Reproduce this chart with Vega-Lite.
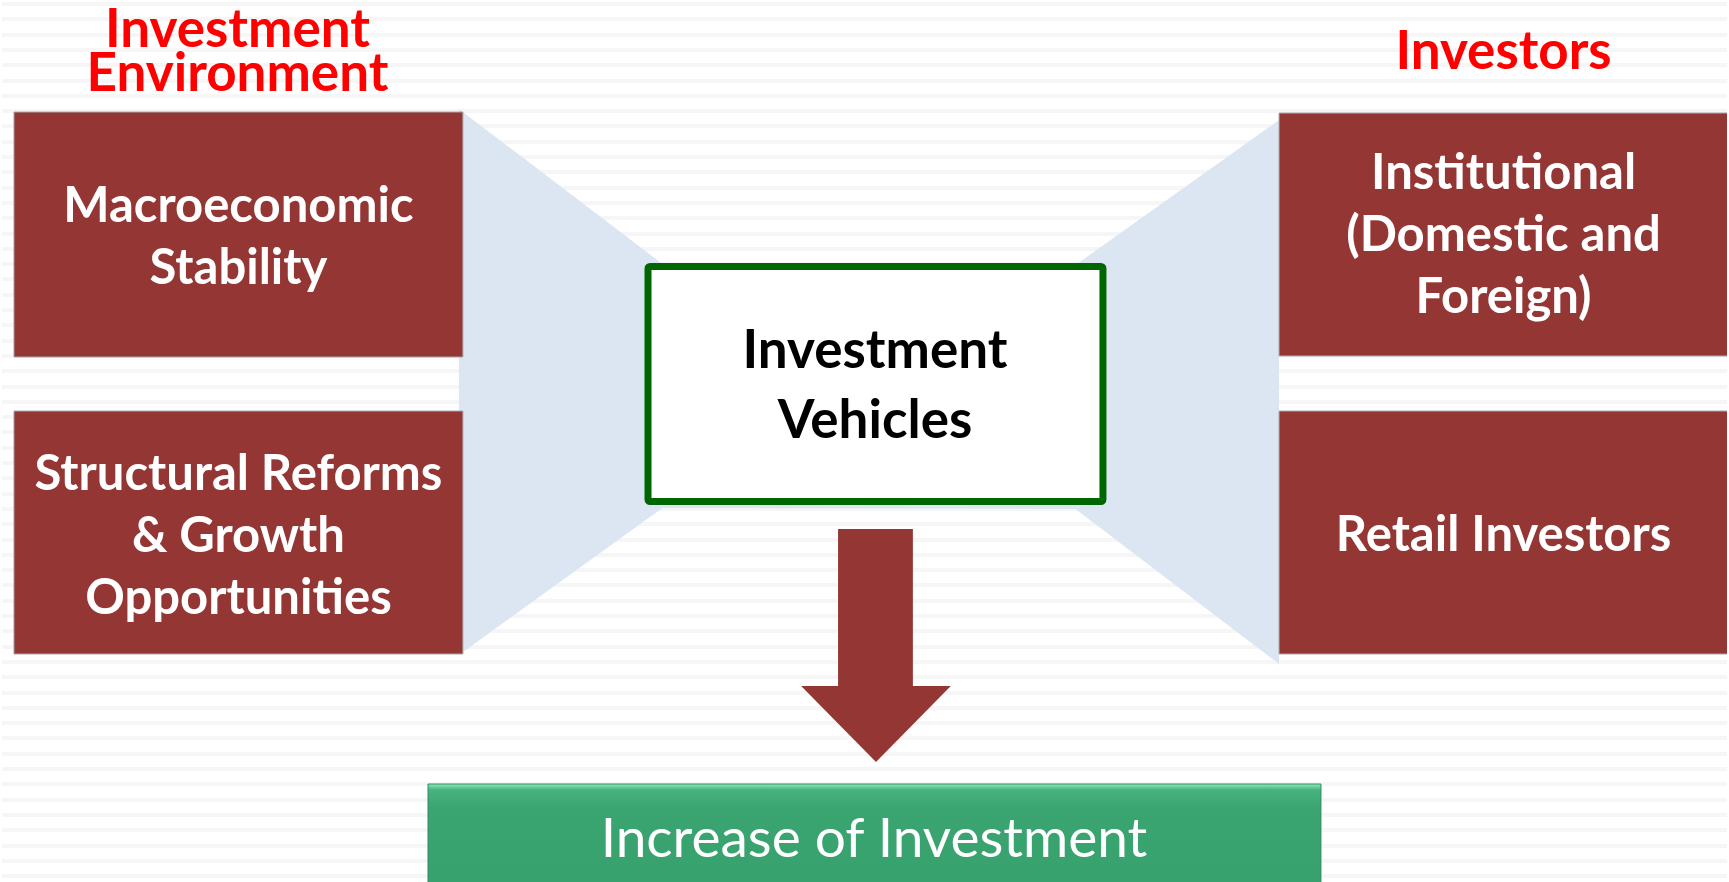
{
  "$schema": "https://vega.github.io/schema/vega-lite/v6.json",
  "width": 1729,
  "height": 882,
  "autosize": {"type": "fit", "contains": "padding"},
  "padding": 0,
  "background": "#ffffff",
  "config": {"view": {"stroke": null}},
  "datasets": {
    "stripes": [
      {"y": 4}, {"y": 19}, {"y": 35}, {"y": 50}, {"y": 65}, {"y": 81}, {"y": 96}, {"y": 111}, {"y": 126}, {"y": 142},
      {"y": 157}, {"y": 172}, {"y": 188}, {"y": 203}, {"y": 218}, {"y": 234}, {"y": 249}, {"y": 264}, {"y": 279}, {"y": 295},
      {"y": 310}, {"y": 325}, {"y": 341}, {"y": 356}, {"y": 371}, {"y": 387}, {"y": 402}, {"y": 417}, {"y": 432}, {"y": 448},
      {"y": 463}, {"y": 478}, {"y": 494}, {"y": 509}, {"y": 524}, {"y": 540}, {"y": 555}, {"y": 570}, {"y": 585}, {"y": 601},
      {"y": 616}, {"y": 631}, {"y": 647}, {"y": 662}, {"y": 677}, {"y": 693}, {"y": 708}, {"y": 723}, {"y": 738}, {"y": 754},
      {"y": 769}, {"y": 784}, {"y": 800}, {"y": 815}, {"y": 830}, {"y": 846}, {"y": 861}, {"y": 876}
    ],
    "funnel": [
      {"x": 458, "top": 109, "bot": 655},
      {"x": 662, "top": 264, "bot": 508},
      {"x": 1076, "top": 265, "bot": 509},
      {"x": 1280, "top": 120, "bot": 664}
    ],
    "boxes": [
      {"name": "Macroeconomic Stability", "x": 12, "x2": 462, "y": 112, "y2": 357},
      {"name": "Structural Reforms", "x": 12, "x2": 462, "y": 411, "y2": 654},
      {"name": "Institutional", "x": 1280, "x2": 1735, "y": 113, "y2": 356},
      {"name": "Retail Investors", "x": 1280, "x2": 1735, "y": 411, "y2": 654}
    ],
    "center": [{"name": "Investment Vehicles", "x": 647.5, "x2": 1103.5, "y": 266.5, "y2": 501.5}],
    "shaft": [{"x": 838, "x2": 913, "y": 529, "y2": 687}],
    "head": [
      {"x": 801, "a": 686, "b": 686},
      {"x": 876, "a": 686, "b": 762},
      {"x": 951, "a": 686, "b": 686}
    ],
    "result": [{"name": "Increase of Investment", "x": 427, "x2": 1322, "y": 784, "y2": 900}],
    "titles": [
      {"label": "Investment\nEnvironment", "x": 236, "y": 47},
      {"label": "Investors", "x": 1505, "y": 69}
    ],
    "boxText": [
      {"label": "Macroeconomic\nStability", "x": 237, "y": 222},
      {"label": "Structural Reforms\n& Growth\nOpportunities", "x": 237, "y": 490},
      {"label": "Institutional\n(Domestic and\nForeign)", "x": 1505, "y": 189},
      {"label": "Retail Investors", "x": 1505, "y": 551}
    ],
    "centerText": [{"label": "Investment\nVehicles", "x": 875, "y": 368}],
    "resultText": [{"label": "Increase of Investment", "x": 874, "y": 857}]
  },
  "layer": [
    {
      "data": {"name": "stripes"},
      "mark": {"type": "rule", "color": "#F6F6F6", "strokeWidth": 4},
      "encoding": {
        "y": {"field": "y", "type": "quantitative", "scale": {"domain": [0, 882], "reverse": true, "nice": false, "zero": false}, "axis": null}
      }
    },
    {
      "data": {"name": "funnel"},
      "mark": {"type": "area", "color": "#DCE6F2", "interpolate": "linear"},
      "encoding": {
        "x": {"field": "x", "type": "quantitative", "scale": {"domain": [0, 1729], "nice": false, "zero": false}, "axis": null},
        "y": {"field": "top", "type": "quantitative", "axis": null},
        "y2": {"field": "bot"}
      }
    },
    {
      "data": {"name": "boxes"},
      "mark": {"type": "rect", "fill": "#943634", "stroke": "#A9A9A9", "strokeWidth": 1, "clip": true},
      "encoding": {
        "x": {"field": "x", "type": "quantitative", "axis": null},
        "x2": {"field": "x2"},
        "y": {"field": "y", "type": "quantitative", "axis": null},
        "y2": {"field": "y2"}
      }
    },
    {
      "data": {"name": "center"},
      "mark": {"type": "rect", "fill": "#9A9A9A", "opacity": 0.45, "xOffset": 3, "yOffset": 4, "cornerRadius": 3},
      "encoding": {
        "x": {"field": "x", "type": "quantitative", "axis": null},
        "x2": {"field": "x2"},
        "y": {"field": "y", "type": "quantitative", "axis": null},
        "y2": {"field": "y2"}
      }
    },
    {
      "data": {"name": "center"},
      "mark": {"type": "rect", "fill": "#FFFFFF", "stroke": "#006600", "strokeWidth": 7, "cornerRadius": 2},
      "encoding": {
        "x": {"field": "x", "type": "quantitative", "axis": null},
        "x2": {"field": "x2"},
        "y": {"field": "y", "type": "quantitative", "axis": null},
        "y2": {"field": "y2"}
      }
    },
    {
      "data": {"name": "shaft"},
      "mark": {"type": "rect", "fill": "#943634"},
      "encoding": {
        "x": {"field": "x", "type": "quantitative", "axis": null},
        "x2": {"field": "x2"},
        "y": {"field": "y", "type": "quantitative", "axis": null},
        "y2": {"field": "y2"}
      }
    },
    {
      "data": {"name": "head"},
      "mark": {"type": "area", "color": "#943634", "interpolate": "linear"},
      "encoding": {
        "x": {"field": "x", "type": "quantitative", "axis": null},
        "y": {"field": "a", "type": "quantitative", "axis": null},
        "y2": {"field": "b"}
      }
    },
    {
      "data": {"name": "result"},
      "mark": {
        "type": "rect",
        "clip": true,
        "stroke": "#2E8A5B",
        "strokeWidth": 1,
        "fill": {
          "gradient": "linear", "x1": 0, "y1": 0, "x2": 0, "y2": 1,
          "stops": [
            {"offset": 0, "color": "#8AEBBB"},
            {"offset": 0.05, "color": "#47B37E"},
            {"offset": 0.2, "color": "#3AA571"},
            {"offset": 1, "color": "#37A16D"}
          ]
        }
      },
      "encoding": {
        "x": {"field": "x", "type": "quantitative", "axis": null},
        "x2": {"field": "x2"},
        "y": {"field": "y", "type": "quantitative", "axis": null},
        "y2": {"field": "y2"}
      }
    },
    {
      "data": {"name": "titles"},
      "mark": {"type": "text", "font": "Lato", "fontWeight": "bold", "fontSize": 53, "color": "#FF0000", "align": "center", "baseline": "alphabetic", "lineBreak": "\n", "lineHeight": 44},
      "encoding": {
        "x": {"field": "x", "type": "quantitative", "axis": null},
        "y": {"field": "y", "type": "quantitative", "axis": null},
        "text": {"field": "label"}
      }
    },
    {
      "data": {"name": "boxText"},
      "mark": {"type": "text", "font": "Lato", "fontWeight": "bold", "fontSize": 49, "color": "#FFFFFF", "align": "center", "baseline": "alphabetic", "lineBreak": "\n", "lineHeight": 62},
      "encoding": {
        "x": {"field": "x", "type": "quantitative", "axis": null},
        "y": {"field": "y", "type": "quantitative", "axis": null},
        "text": {"field": "label"}
      }
    },
    {
      "data": {"name": "centerText"},
      "mark": {"type": "text", "font": "Lato", "fontWeight": "bold", "fontSize": 53, "color": "#000000", "align": "center", "baseline": "alphabetic", "lineBreak": "\n", "lineHeight": 70},
      "encoding": {
        "x": {"field": "x", "type": "quantitative", "axis": null},
        "y": {"field": "y", "type": "quantitative", "axis": null},
        "text": {"field": "label"}
      }
    },
    {
      "data": {"name": "resultText"},
      "mark": {"type": "text", "font": "Lato", "fontWeight": "normal", "fontSize": 55, "color": "#FFFFFF", "align": "center", "baseline": "alphabetic"},
      "encoding": {
        "x": {"field": "x", "type": "quantitative", "axis": null},
        "y": {"field": "y", "type": "quantitative", "axis": null},
        "text": {"field": "label"}
      }
    }
  ]
}
